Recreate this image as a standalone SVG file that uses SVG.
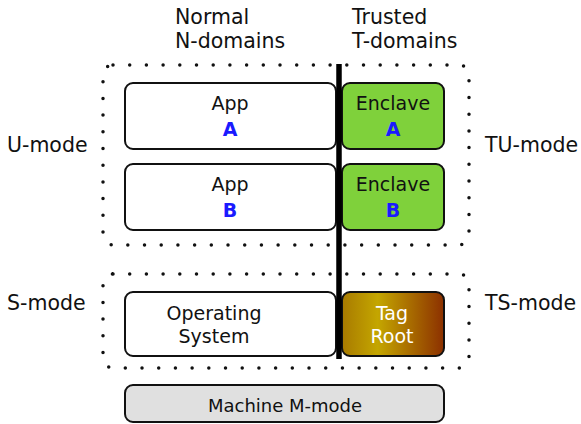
<svg xmlns="http://www.w3.org/2000/svg" width="581" height="424" viewBox="0 0 581 424">
<defs>
<linearGradient id="tag" x1="0" y1="0" x2="1" y2="0">
<stop offset="0" stop-color="#a87a00"/>
<stop offset="0.35" stop-color="#c4a600"/>
<stop offset="1" stop-color="#8c3000"/>
</linearGradient>
<style>
text{font-family:"DejaVu Sans","Liberation Sans",sans-serif;font-size:19px;fill:#111}
.l{font-size:20.5px}
.m{font-size:18px}
.c{text-anchor:middle}
.b{font-weight:bold;fill:#1a1aff}
.w{fill:#fff}
.box{stroke:#111;stroke-width:2}
.dot{fill:none;stroke:#111;stroke-width:3.5;stroke-linecap:round;stroke-dasharray:0 16.7}
</style>
</defs>
<g id="labels">
<text class="l" x="175" y="24">Normal</text>
<text class="l" x="175" y="48">N-domains</text>
<text class="l" x="352" y="24">Trusted</text>
<text class="l" x="352" y="48">T-domains</text>
<text class="l" x="7" y="152">U-mode</text>
<text class="l" x="485" y="152">TU-mode</text>
<text class="l" x="7" y="310">S-mode</text>
<text class="l" x="485" y="310">TS-mode</text>
</g>
<g id="regions">
<rect class="dot" x="103" y="65" width="366" height="180" rx="10"/>
<rect class="dot" x="103" y="274" width="366" height="94" rx="10"/>
</g>
<g id="appA"><rect class="box" x="125" y="83" width="211" height="66" rx="8" fill="#fff"/>
<text class="c" x="230" y="110">App</text><text class="c b" x="230" y="136">A</text></g>
<g id="enclaveA"><rect class="box" x="342" y="83" width="102" height="66" rx="8" fill="#7fd13b"/>
<text class="c" x="393" y="110">Enclave</text><text class="c b" x="393" y="136">A</text></g>
<g id="appB"><rect class="box" x="125" y="164" width="211" height="66" rx="8" fill="#fff"/>
<text class="c" x="230" y="191">App</text><text class="c b" x="230" y="217">B</text></g>
<g id="enclaveB"><rect class="box" x="342" y="164" width="102" height="66" rx="8" fill="#7fd13b"/>
<text class="c" x="393" y="191">Enclave</text><text class="c b" x="393" y="217">B</text></g>
<g id="os"><rect class="box" x="125" y="292" width="211" height="64" rx="8" fill="#fff"/>
<text class="c" x="214" y="320">Operating</text><text class="c" x="214" y="343">System</text></g>
<g id="tagroot"><rect class="box" x="342" y="292" width="102" height="64" rx="8" fill="url(#tag)"/>
<text class="c w" x="392" y="320">Tag</text><text class="c w" x="392" y="343">Root</text></g>
<g id="machine"><rect class="box" x="125" y="385" width="319" height="37" rx="8" fill="#e0e0e0"/>
<text class="c m" x="285" y="412">Machine M-mode</text></g>
<g id="connectors">
<line x1="339" y1="64" x2="339" y2="359" stroke="#000" stroke-width="5.5"/>
</g>
</svg>
